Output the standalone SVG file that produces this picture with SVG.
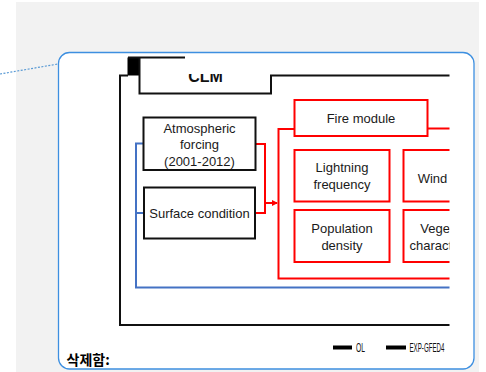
<svg xmlns="http://www.w3.org/2000/svg" width="486" height="372" viewBox="0 0 486 372">
<defs>
<style>
.blk{fill:none;stroke:#111;stroke-width:2}
.red{fill:none;stroke:#ff0000;stroke-width:2}
.redbox{fill:#fff;stroke:#ff0000;stroke-width:2}
.blkbox{fill:#fff;stroke:#111;stroke-width:2}
.blue{fill:none;stroke:#4472c4;stroke-width:2}
.t{font-family:"Liberation Sans",Arial,sans-serif;font-size:13px;fill:#1a1a1a;text-anchor:middle}
.leg{font-family:"Liberation Sans",Arial,sans-serif;font-size:12px;fill:#111}
</style>
<clipPath id="right"><rect x="0" y="0" width="449.5" height="372"/></clipPath>
<clipPath id="clmclip"><rect x="140" y="74" width="130" height="19"/></clipPath>
<marker id="arr" markerWidth="6" markerHeight="6" refX="5" refY="3" orient="auto" markerUnits="userSpaceOnUse">
<path d="M0,0 L6,3 L0,6 Z" fill="#ff0000"/>
</marker>
</defs>
<rect x="0" y="0" width="486" height="372" fill="#fff"/>
<rect x="16" y="2" width="463" height="370" fill="#f2f2f2"/>
<line x1="0" y1="74" x2="58" y2="64" stroke="#5b9bd5" stroke-width="1.2" stroke-dasharray="2,1.5"/>
<rect id="callout" x="58.5" y="52.5" width="415.5" height="316.5" rx="11" fill="#fff" stroke="#3d8fe0" stroke-width="1.3"/>

<g clip-path="url(#right)">
<g id="clm">
<rect x="127.5" y="57.5" width="12" height="18" fill="#000"/>
<path class="blk" d="M128,57.5 H185 M139.5,57.5 V93.5 H271 V75.5 H452"/>
<path class="blk" d="M128,75.5 H120 V325 H452"/>
<text x="205.5" y="81.7" clip-path="url(#clmclip)" style="font-family:'Liberation Sans',Arial,sans-serif;font-size:16px;font-weight:bold;fill:#111;text-anchor:middle">CLM</text>
</g>

<g id="connectors">
<path class="blue" d="M143.5,143.5 H136 V287.5 H452 M136,213 H144"/>
<path class="red" d="M255.5,144 H265 V213 H255.5"/>
<line class="red" x1="265" y1="203" x2="277" y2="203" marker-end="url(#arr)"/>
<path class="red" d="M294.5,129 H278.5 V278.5 H452 M427.5,128.5 H452"/>
</g>

<g id="atmospheric">
<rect class="blkbox" x="143.5" y="117.5" width="112" height="52.5"/>
<text class="t" x="199.5" y="132.5">Atmospheric</text>
<text class="t" x="199.5" y="149">forcing</text>
<text class="t" x="199.5" y="166">(2001-2012)</text>
</g>
<g id="surface">
<rect class="blkbox" x="144" y="187.5" width="111" height="51"/>
<text class="t" x="199.5" y="218">Surface condition</text>
</g>
<g id="fire">
<rect class="redbox" x="294.5" y="100" width="133" height="36"/>
<text class="t" x="361" y="122.5">Fire module</text>
</g>
<g id="lightning">
<rect class="redbox" x="294.5" y="150" width="95" height="51.5"/>
<text class="t" x="342" y="172">Lightning</text>
<text class="t" x="342" y="188.5">frequency</text>
</g>
<g id="wind">
<rect class="redbox" x="403.5" y="150" width="95" height="51.5"/>
<text class="t" x="432.5" y="182.5">Wind</text>
</g>
<g id="population">
<rect class="redbox" x="294.5" y="210" width="95" height="52"/>
<text class="t" x="342" y="232.5">Population</text>
<text class="t" x="342" y="249.5">density</text>
</g>
<g id="vegetation">
<rect class="redbox" x="403.5" y="210" width="95" height="52"/>
<text class="t" x="451" y="232.5">Vegetation</text>
<text class="t" x="451" y="249.5">characteristics</text>
</g>
</g>

<g id="legend">
<line x1="333" y1="347.5" x2="352" y2="347.5" stroke="#000" stroke-width="4"/>
<text class="leg" x="356" y="352" textLength="9" lengthAdjust="spacingAndGlyphs">OL</text>
<line x1="386" y1="347.5" x2="406" y2="347.5" stroke="#000" stroke-width="4"/>
<text class="leg" x="409.5" y="352" textLength="35" lengthAdjust="spacingAndGlyphs">EXP-GFED4</text>
</g>
<text x="66.5" y="365" style="font-family:'Noto Sans CJK KR',sans-serif;font-size:14px;font-weight:bold;fill:#000">삭제함:</text>
</svg>
